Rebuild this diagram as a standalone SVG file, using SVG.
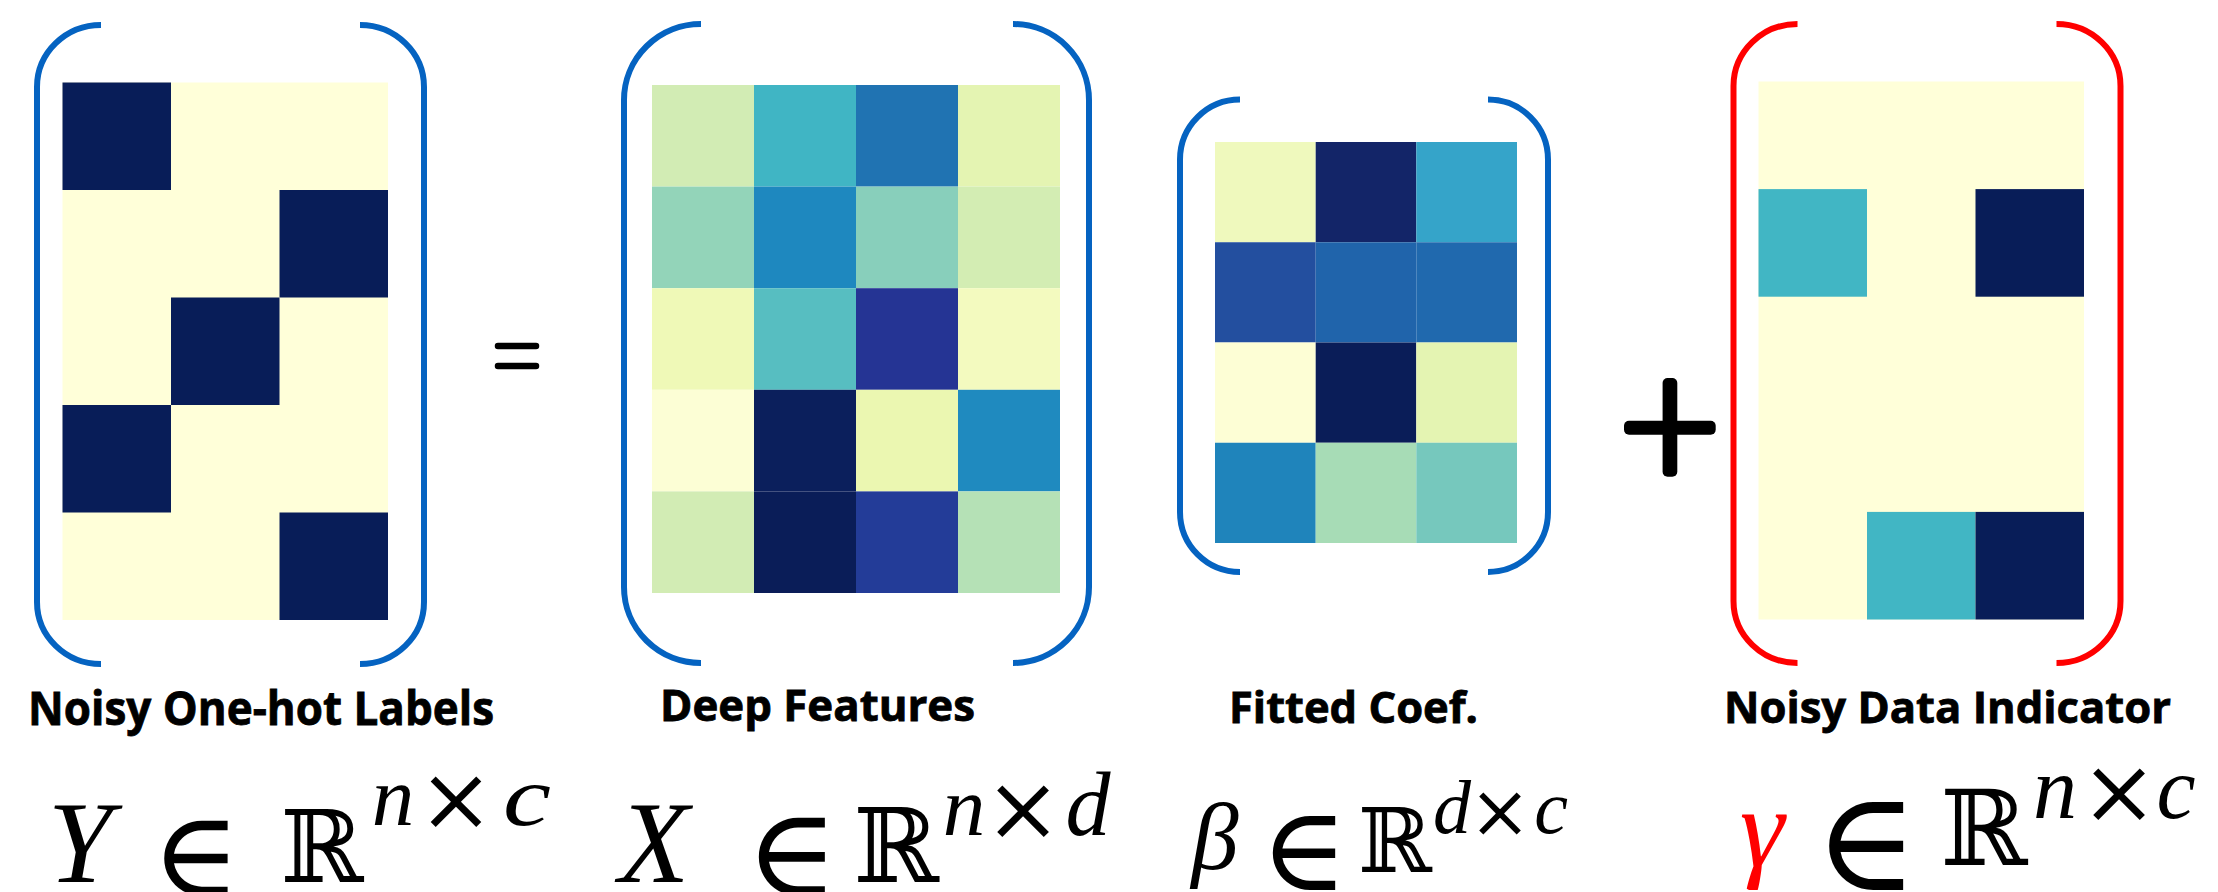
<svg xmlns="http://www.w3.org/2000/svg" width="2218" height="892" viewBox="0 0 2218 892">
<style>
.br{fill:none;stroke:#0563c1;stroke-width:6}
.brr{fill:none;stroke:#ff0000;stroke-width:6}
.lbl{font-family:"Open Sans","Noto Sans","Liberation Sans",sans-serif;font-weight:bold;fill:#000;stroke:#000;stroke-width:0.8}
.mi{font-family:"Liberation Serif","DejaVu Serif",serif;font-style:italic;fill:#000;text-anchor:middle}
.mr{font-family:"DejaVu Serif","Liberation Serif",serif;fill:#000;text-anchor:middle}
.lt{fill:#ffffd9}
.dk{fill:#081d58}
.tl{fill:#41b6c4}
.op{fill:#000}
.red{fill:#ff0000}
</style>
<rect width="2218" height="892" fill="#fff"/>
<g id="connectors"></g>

<g id="node-Y">
<rect class="lt" x="62.5" y="82.5" width="325.5" height="537.5"/>
<rect class="dk" x="62.5" y="82.5" width="108.5" height="107.5"/>
<rect class="dk" x="279.5" y="190" width="108.5" height="107.5"/>
<rect class="dk" x="171" y="297.5" width="108.5" height="107.5"/>
<rect class="dk" x="62.5" y="405" width="108.5" height="107.5"/>
<rect class="dk" x="279.5" y="512.5" width="108.5" height="107.5"/>
<path class="br" d="M101,25 A64,62 0 0 0 37,87 L37,602 A64,62 0 0 0 101,664"/>
<path class="br" d="M360,25 A64,62 0 0 1 424,87 L424,602 A64,62 0 0 1 360,664"/>
<text class="lbl" x="28" y="725" font-size="46" textLength="466" lengthAdjust="spacingAndGlyphs">Noisy One-hot Labels</text>
<text class="mi" x="80" y="882" font-size="116">Y</text>
<text class="mr" x="196" y="896" font-size="120">∈</text>
<text class="mr" x="322" y="882" font-size="100">ℝ</text>
<text class="mi" x="393" y="825" font-size="85">n</text>
<text class="mr" x="456" y="830" font-size="90">×</text>
<text class="mi" x="527" y="825" font-size="85" textLength="48" lengthAdjust="spacingAndGlyphs">c</text>
</g>

<g id="op-equals">
<line x1="498" y1="346" x2="536" y2="346" stroke="#000" stroke-width="6.5" stroke-linecap="round"/>
<line x1="498" y1="366" x2="536" y2="366" stroke="#000" stroke-width="6.5" stroke-linecap="round"/>
</g>

<g id="node-X">
<rect x="652" y="85" width="102" height="101.6" fill="#d2ecb4"/>
<rect x="754" y="85" width="102" height="101.6" fill="#40b5c4"/>
<rect x="856" y="85" width="102" height="101.6" fill="#2073b2"/>
<rect x="958" y="85" width="102" height="101.6" fill="#e4f4b2"/>
<rect x="652" y="186.6" width="102" height="101.6" fill="#93d4b9"/>
<rect x="754" y="186.6" width="102" height="101.6" fill="#1e88bf"/>
<rect x="856" y="186.6" width="102" height="101.6" fill="#88cfbb"/>
<rect x="958" y="186.6" width="102" height="101.6" fill="#d3edb3"/>
<rect x="652" y="288.2" width="102" height="101.6" fill="#eff9b7"/>
<rect x="754" y="288.2" width="102" height="101.6" fill="#57bec1"/>
<rect x="856" y="288.2" width="102" height="101.6" fill="#253494"/>
<rect x="958" y="288.2" width="102" height="101.6" fill="#f3fabf"/>
<rect x="652" y="389.8" width="102" height="101.6" fill="#fcfed5"/>
<rect x="754" y="389.8" width="102" height="101.6" fill="#0b1f5c"/>
<rect x="856" y="389.8" width="102" height="101.6" fill="#ebf7b1"/>
<rect x="958" y="389.8" width="102" height="101.6" fill="#1f8abf"/>
<rect x="652" y="491.4" width="102" height="101.6" fill="#d2ecb4"/>
<rect x="754" y="491.4" width="102" height="101.6" fill="#0a1d58"/>
<rect x="856" y="491.4" width="102" height="101.6" fill="#233c98"/>
<rect x="958" y="491.4" width="102" height="101.6" fill="#b5e1b6"/>
<path class="br" d="M701,24 A77,76 0 0 0 624,100 L624,587 A77,76 0 0 0 701,663"/>
<path class="br" d="M1013,24 A76,76 0 0 1 1089,100 L1089,587 A76,76 0 0 1 1013,663"/>
<text class="lbl" x="660" y="721" font-size="43" textLength="315" lengthAdjust="spacingAndGlyphs">Deep Features</text>
<text class="mi" x="654" y="882" font-size="116">X</text>
<text class="mr" x="792" y="896" font-size="125">∈</text>
<text class="mr" x="896" y="882" font-size="103">ℝ</text>
<text class="mi" x="964" y="835" font-size="85">n</text>
<text class="mr" x="1023" y="840" font-size="92">×</text>
<text class="mi" x="1088" y="835" font-size="90">d</text>
</g>

<g id="node-beta">
<rect x="1215" y="142" width="100.7" height="100.25" fill="#eff9bd"/>
<rect x="1315.7" y="142" width="100.6" height="100.25" fill="#132568"/>
<rect x="1416.3" y="142" width="100.7" height="100.25" fill="#35a4c9"/>
<rect x="1215" y="242.25" width="100.7" height="100.25" fill="#234f9f"/>
<rect x="1315.7" y="242.25" width="100.6" height="100.25" fill="#2064ab"/>
<rect x="1416.3" y="242.25" width="100.7" height="100.25" fill="#2069ae"/>
<rect x="1215" y="342.5" width="100.7" height="100.25" fill="#fdfed5"/>
<rect x="1315.7" y="342.5" width="100.6" height="100.25" fill="#0a1d58"/>
<rect x="1416.3" y="342.5" width="100.7" height="100.25" fill="#e4f4b2"/>
<rect x="1215" y="442.75" width="100.7" height="100.25" fill="#1f84bb"/>
<rect x="1315.7" y="442.75" width="100.6" height="100.25" fill="#a7dcb6"/>
<rect x="1416.3" y="442.75" width="100.7" height="100.25" fill="#76c8bd"/>
<path class="br" d="M1240,99.5 A60,60 0 0 0 1180,159.5 L1180,512 A60,60 0 0 0 1240,572"/>
<path class="br" d="M1488,99.5 A60,60 0 0 1 1548,159.5 L1548,512 A60,60 0 0 1 1488,572"/>
<text class="lbl" x="1229" y="723" font-size="43" textLength="249" lengthAdjust="spacingAndGlyphs">Fitted Coef.</text>
<text class="mi" x="1215" y="869" font-size="95">β</text>
<text class="mr" x="1304" y="890" font-size="118">∈</text>
<text class="mr" x="1395" y="872" font-size="89">ℝ</text>
<text class="mi" x="1452" y="833" font-size="76">d</text>
<text class="mr" x="1500" y="837" font-size="74">×</text>
<text class="mi" x="1551" y="833" font-size="76">c</text>
</g>

<g id="op-plus">
<rect x="1624" y="420.7" width="91.7" height="14" rx="5" class="op"/>
<rect x="1662.6" y="378" width="14.7" height="98.7" rx="5" class="op"/>
</g>

<g id="node-gamma">
<rect class="lt" x="1758.5" y="81.5" width="325.5" height="538"/>
<rect class="tl" x="1758.5" y="189.1" width="108.5" height="107.6"/>
<rect class="dk" x="1975.5" y="189.1" width="108.5" height="107.6"/>
<rect class="tl" x="1867" y="511.9" width="108.5" height="107.6"/>
<rect class="dk" x="1975.5" y="511.9" width="108.5" height="107.6"/>
<path class="brr" d="M1797.5,24 A64,62 0 0 0 1733.5,86 L1733.5,601 A64,62 0 0 0 1797.5,663"/>
<path class="brr" d="M2056.5,24 A64,62 0 0 1 2120.5,86 L2120.5,601 A64,62 0 0 1 2056.5,663"/>
<text class="lbl" x="1724" y="723" font-size="43" textLength="447" lengthAdjust="spacingAndGlyphs">Noisy Data Indicator</text>
<text class="mi red" x="1762" y="866" font-size="113">γ</text>
<text class="mr" x="1866" y="890" font-size="140">∈</text>
<text class="mr" x="1984" y="865" font-size="105">ℝ</text>
<text class="mi" x="2055" y="818" font-size="88">n</text>
<text class="mr" x="2119" y="823" font-size="92">×</text>
<text class="mi" x="2176" y="818" font-size="88">c</text>
</g>
</svg>
